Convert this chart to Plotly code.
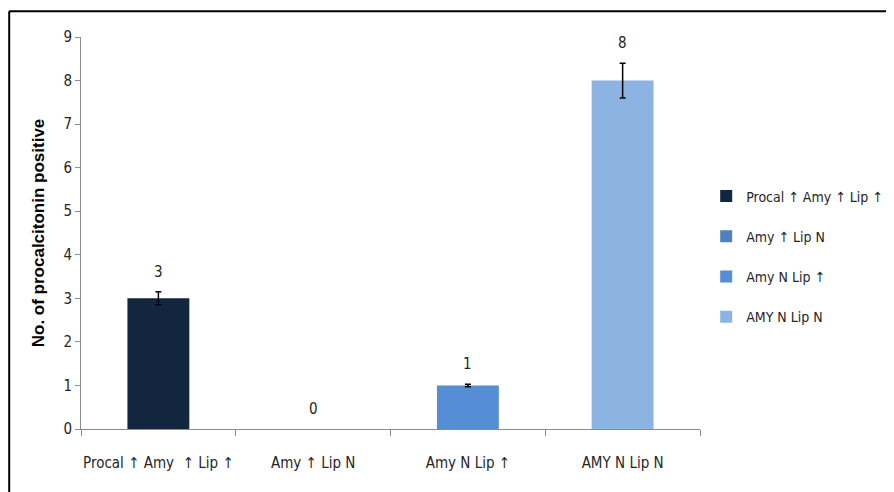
import plotly.graph_objects as go

categories = ["Procal \u2191 Amy  \u2191 Lip \u2191", "Amy \u2191 Lip N", "Amy N Lip \u2191", "AMY N Lip N"]
legend_names = ["Procal \u2191 Amy \u2191 Lip \u2191", "Amy \u2191 Lip N", "Amy N Lip \u2191", "AMY N Lip N"]
values = [3, 0, 1, 8]
errors = [0.15, 0.0, 0.03, 0.4]
y_ticks = [0, 1, 2, 3, 4, 5, 6, 7, 8, 9]
colors = ["#13263F", "#4F81BD", "#558ED5", "#8DB3E2"]

FONT = "Liberation Sans Narrow, DejaVu Sans Condensed, Arial Narrow, sans-serif"

fig = go.Figure()
for i, cat in enumerate(categories):
    fig.add_trace(go.Bar(
        x=[cat], y=[values[i]], name=legend_names[i],
        marker=dict(color=colors[i], line=dict(width=0)),
        width=0.4,
        legendgroup=f"g{i}",
        error_y=dict(type="data", array=[errors[i]], visible=errors[i] > 0,
                     color="black", thickness=1.5, width=3),
    ))
    fig.add_annotation(x=cat, y=values[i] + errors[i], text=str(values[i]),
                       showarrow=False, yanchor="middle", yshift=20,
                       font=dict(family=FONT, size=15, color="#262626"))

# outer frame (top and left edges visible; right/bottom fall outside the view)
fig.add_shape(type="line", xref="paper", yref="paper",
              x0=-0.116, x1=1.4, y0=1.066, y1=1.066,
              line=dict(color="black", width=2), layer="above")
fig.add_shape(type="line", xref="paper", yref="paper",
              x0=-0.116, x1=-0.116, y0=-0.3, y1=1.066,
              line=dict(color="black", width=2), layer="above")

fig.update_layout(
    width=886, height=484,
    margin=dict(l=73, r=194, t=29, b=63, autoexpand=False),
    paper_bgcolor="white", plot_bgcolor="white",
    barmode="overlay",
    font=dict(family=FONT, size=15, color="#262626"),
    showlegend=True,
    legend=dict(x=1.01, y=0.44, xanchor="left", yanchor="middle",
                font=dict(family=FONT, size=14, color="#262626"),
                tracegroupgap=19, itemwidth=30),
    xaxis=dict(showline=True, linecolor="#8c8c8c", linewidth=1, automargin=False,
               ticks="outside", tickson="boundaries", ticklen=6, tickcolor="#8c8c8c",
               ticklabelstandoff=20, showgrid=False, tickangle=0,
               tickfont=dict(family=FONT, size=15, color="#262626")),
    yaxis=dict(range=[0, 9], tickvals=y_ticks, showline=True, linecolor="#8c8c8c", linewidth=1,
               automargin=False,
               ticks="outside", ticklen=5, tickcolor="#8c8c8c", showgrid=False, zeroline=False,
               tickfont=dict(family=FONT, size=15, color="#262626"),
               title=dict(text="<b>No. of procalcitonin positive</b>", standoff=14,
                          font=dict(family="Liberation Sans, Arial, sans-serif", size=17, color="black"))),
)

fig.write_html("out.html")
